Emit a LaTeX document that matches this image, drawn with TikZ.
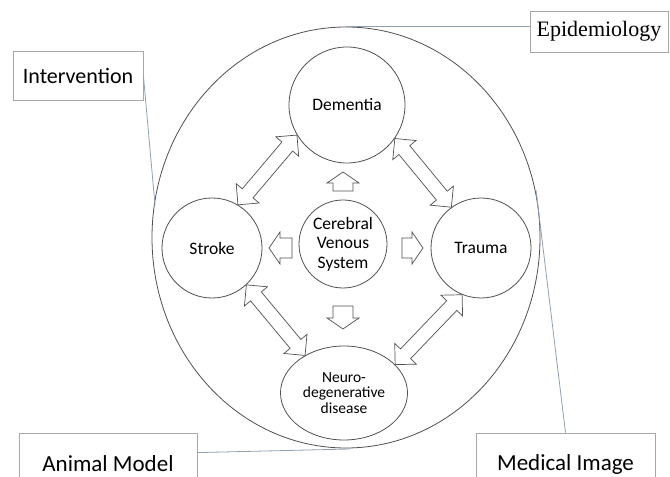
\documentclass[tikz,border=0pt]{standalone}
\usepackage{fontspec}
\setmainfont{Carlito}
\newfontfamily\timesfont{Liberation Serif}
\usetikzlibrary{calc,shapes.geometric}
\definecolor{circgray}{HTML}{505050}
\definecolor{boxgray}{HTML}{A8A8A8}
\definecolor{linkblue}{HTML}{90A0B4}
\newcommand\blkK{15pt}
\newcommand\blkH{15pt}
\newcommand\blkW{7pt}
\newcommand\sglK{11pt}
\newcommand\sglH{16pt}
\newcommand\sglW{10pt}
% double block arrow between two named points
\newcommand\dblarr[2]{%
 \draw[blk] (#1) -- ($(#1)!\blkK!(#2)!\blkH!90:(#2)$) -- ($(#1)!\blkK!(#2)!\blkW!90:(#2)$)
   -- ($(#2)!\blkK!(#1)!\blkW!-90:(#1)$) -- ($(#2)!\blkK!(#1)!\blkH!-90:(#1)$) -- (#2)
   -- ($(#2)!\blkK!(#1)!\blkH!90:(#1)$) -- ($(#2)!\blkK!(#1)!\blkW!90:(#1)$)
   -- ($(#1)!\blkK!(#2)!\blkW!-90:(#2)$) -- ($(#1)!\blkK!(#2)!\blkH!-90:(#2)$) -- cycle;}
% single block arrow: #1 tail, #2 tip
\newcommand\sglarr[2]{%
 \draw[blk] (#2) -- ($(#2)!\sglK!(#1)!\sglH!90:(#1)$) -- ($(#2)!\sglK!(#1)!\sglW!90:(#1)$)
   -- ($(#1)!\sglW!-90:(#2)$) -- ($(#1)!\sglW!90:(#2)$)
   -- ($(#2)!\sglK!(#1)!\sglW!-90:(#1)$) -- ($(#2)!\sglK!(#1)!\sglH!-90:(#1)$) -- cycle;}
\begin{document}
\begin{tikzpicture}[x=1pt,y=1pt,
 circ/.style={circle,draw=circgray,line width=0.8pt,inner sep=0pt,align=center,fill=white,
   font=\fontsize{17.5}{19.5}\selectfont},
 box/.style={draw=boxgray,line width=0.8pt,fill=white,inner sep=0pt,
   font=\fontsize{23}{27}\selectfont},
 link/.style={draw=linkblue,line width=0.8pt},
 blk/.style={draw=circgray,line width=0.7pt,fill=white,line join=miter}]
\clip (0,0) rectangle (670,477);
\fill[white] (0,0) rectangle (670,477);

% outer ellipse
\node[ellipse,draw=circgray,line width=0.8pt,minimum width=388,minimum height=421,inner sep=0pt]
  (outer) at (346,239.5) {};

% boxes
\node[box,minimum width=130,minimum height=49,font=\fontsize{22}{26}\selectfont] (int) at (78,401.5) {Intervention};
\node[box,minimum width=138,minimum height=41,font=\timesfont\fontsize{22}{26}\selectfont] (epi) at (599,445.5) {Epidemiology};
\node[box,minimum width=178,minimum height=62] (ani) at (108,13) {Animal Model};
\node[box,minimum width=179,minimum height=62] (med) at (565.5,13) {Medical Image};

% connectors
\coordinate (intE) at (155,272);
\coordinate (aniE) at (350,28);
\coordinate (medE) at (536,287);
\draw[link] (int.east) -- (intE);
\draw[link] (outer.north) -- (epi.west |- outer.north);
\draw[link] ($(ani.north east)+(0,-20)$) -- (aniE);
\draw[link] (med.north) -- (medE);

% inner circles
\node[circ,minimum size=116] (dem) at (347,372) {Dementia};
\node[circ,minimum size=100] (str) at (212,229) {Stroke};
\node[circ,minimum size=100] (tra) at (481,229) {Trauma};
\node[circ,minimum size=88] (cvs) at (343,233) {Cerebral\\Venous\\System};
\node[ellipse,draw=circgray,line width=0.8pt,inner sep=0pt,align=center,fill=white,
  minimum width=127,minimum height=94,font=\fontsize{15.5}{15.5}\selectfont]
  (neu) at (344,84) {Neuro-\\degenerative\\disease};

% double arrows
\dblarr{dem.211}{str.59}
\dblarr{dem.325}{tra.126}
\dblarr{str.313}{neu.136}
\dblarr{tra.248}{neu.29}

% single arrows from the centre
\coordinate (upT) at ($(cvs.center)+(0,53)$);
\coordinate (upH) at ($(cvs.center)+(0,72)$);
\coordinate (lfT) at ($(cvs.center)+(-51,-4)$);
\coordinate (lfH) at ($(cvs.center)+(-74,-4)$);
\coordinate (rtT) at ($(cvs.center)+(59,-4)$);
\coordinate (rtH) at ($(cvs.center)+(80,-4)$);
\coordinate (dnT) at ($(cvs.center)+(0,-62)$);
\coordinate (dnH) at ($(cvs.center)+(0,-85)$);
\sglarr{upT}{upH}
\sglarr{lfT}{lfH}
\sglarr{rtT}{rtH}
\sglarr{dnT}{dnH}
\end{tikzpicture}
\end{document}
